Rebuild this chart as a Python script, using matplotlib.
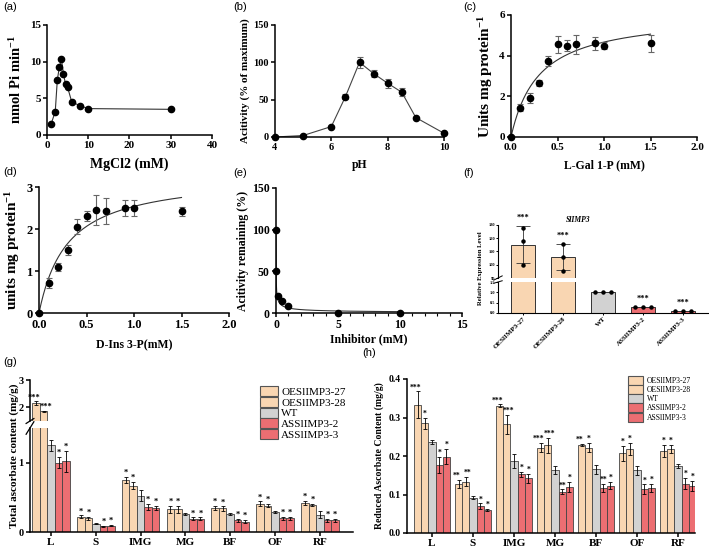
import numpy as np
import matplotlib
matplotlib.use("Agg")
import matplotlib.pyplot as plt
from matplotlib.patches import Patch
from matplotlib.ticker import MultipleLocator, FormatStrFormatter

plt.rcParams['font.family'] = 'Liberation Serif'
plt.rcParams['font.weight'] = 'bold'
plt.rcParams['axes.labelweight'] = 'bold'
plt.rcParams['mathtext.fontset'] = 'custom'
plt.rcParams['mathtext.rm'] = 'Liberation Serif:bold'
plt.rcParams['mathtext.bf'] = 'Liberation Serif:bold'
plt.rcParams['mathtext.default'] = 'rm'
plt.rcParams['axes.linewidth'] = 1.1
for a in ['xtick', 'ytick']:
    plt.rcParams[a + '.major.width'] = 1.1
    plt.rcParams[a + '.major.size'] = 3
    plt.rcParams[a + '.major.pad'] = 1.5

# (a) MgCl2 dependence
mg_conc = [1, 2, 2.5, 3, 3.5, 4, 4.5, 5, 6, 8, 10, 30]
mg_act = [1.5, 3.2, 7.5, 9.3, 10.3, 8.3, 6.9, 6.5, 4.5, 4.0, 3.6, 3.5]

# (b) pH profile
ph = [4, 5, 6, 6.5, 7, 7.5, 8, 8.5, 9, 10]
ph_act = [0, 2, 14, 54, 100, 85, 72, 60, 26, 5]
ph_err = [0, 0, 0, 3, 7, 5, 6, 5, 0, 0]

# (c) L-Gal 1-P kinetics
sub_conc = [0, 0.1, 0.2, 0.3, 0.4, 0.5, 0.6, 0.7, 0.9, 1.0, 1.5]
gal_act = [0, 1.45, 1.9, 2.65, 3.75, 4.55, 4.5, 4.55, 4.6, 4.5, 4.6]
gal_err = [0, 0.15, 0.25, 0.15, 0.25, 0.4, 0.25, 0.45, 0.3, 0.15, 0.4]
gal_vmax, gal_km = 6.07, 0.30

# (d) D-Ins 3-P kinetics
ins_act = [0, 0.72, 1.1, 1.5, 2.05, 2.3, 2.45, 2.43, 2.5, 2.5, 2.42]
ins_err = [0, 0.12, 0.1, 0.12, 0.18, 0.12, 0.35, 0.3, 0.2, 0.18, 0.1]
ins_vmax, ins_km = 3.3, 0.30

# (e) inhibition
inh_conc = [0, 0.01, 0.2, 0.5, 1, 5, 10]
inh_act = [100, 50, 20, 15, 8, 0, 0]
inh_ic50, inh_hill = 0.0095, 0.59

# (f) SlIMP3 expression
lines = ['OESlIMP3-27', 'OESlIMP3-28', 'WT', 'ASSlIMP3-2', 'ASSlIMP3-3']
line_colors = ['#F9D6B2', '#F9D6B2', '#D2D2D2', '#EC6E72', '#EC6E72']
expr_mean = [115, 106, 1.0, 0.27, 0.10]
expr_err = [14, 10, 0, 0, 0]
expr_reps = [[128, 118, 100], [116, 106, 95], [1.0, 1.0, 1.0], [0.27, 0.28, 0.27], [0.10, 0.12, 0.10]]
expr_sig = ['***', '***', '', '***', '***']

# (g) total ascorbate, (h) reduced ascorbate
tissues = ['L', 'S', 'IMG', 'MG', 'BF', 'OF', 'RF']
total_mean = {
    'OESlIMP3-27': [2.15, 0.22, 0.75, 0.33, 0.35, 0.41, 0.42],
    'OESlIMP3-28': [1.85, 0.20, 0.67, 0.33, 0.34, 0.38, 0.39],
    'WT':          [1.25, 0.12, 0.52, 0.26, 0.26, 0.29, 0.25],
    'ASSlIMP3-2':  [1.00, 0.08, 0.36, 0.19, 0.17, 0.20, 0.17],
    'ASSlIMP3-3':  [1.02, 0.09, 0.35, 0.19, 0.15, 0.20, 0.17],
}
total_err = {
    'OESlIMP3-27': [0.07, 0.02, 0.05, 0.05, 0.03, 0.03, 0.03],
    'OESlIMP3-28': [0.03, 0.02, 0.05, 0.05, 0.03, 0.02, 0.02],
    'WT':          [0.08, 0.01, 0.08, 0.02, 0.02, 0.02, 0.05],
    'ASSlIMP3-2':  [0.08, 0.01, 0.04, 0.02, 0.02, 0.02, 0.02],
    'ASSlIMP3-3':  [0.15, 0.01, 0.03, 0.02, 0.02, 0.02, 0.02],
}
total_sig = {
    'OESlIMP3-27': ['***', '*', '*', '*', '*', '*', '*'],
    'OESlIMP3-28': ['***', '*', '*', '*', '*', '*', '*'],
    'WT':          ['', '', '', '', '', '', ''],
    'ASSlIMP3-2':  ['*', '*', '*', '*', '*', '*', '*'],
    'ASSlIMP3-3':  ['*', '*', '*', '*', '*', '*', '*'],
}
red_mean = {
    'OESlIMP3-27': [0.333, 0.128, 0.330, 0.222, 0.228, 0.207, 0.213],
    'OESlIMP3-28': [0.285, 0.133, 0.282, 0.228, 0.222, 0.218, 0.218],
    'WT':          [0.237, 0.092, 0.188, 0.163, 0.165, 0.163, 0.174],
    'ASSlIMP3-2':  [0.177, 0.070, 0.152, 0.107, 0.117, 0.114, 0.128],
    'ASSlIMP3-3':  [0.198, 0.060, 0.142, 0.120, 0.123, 0.117, 0.122],
}
red_err = {
    'OESlIMP3-27': [0.035, 0.010, 0.004, 0.012, 0.003, 0.020, 0.015],
    'OESlIMP3-28': [0.015, 0.012, 0.025, 0.020, 0.012, 0.015, 0.010],
    'WT':          [0.005, 0.003, 0.018, 0.010, 0.012, 0.012, 0.005],
    'ASSlIMP3-2':  [0.020, 0.007, 0.006, 0.006, 0.010, 0.012, 0.015],
    'ASSlIMP3-3':  [0.020, 0.003, 0.012, 0.013, 0.010, 0.010, 0.013],
}
red_sig = {
    'OESlIMP3-27': ['***', '**', '***', '***', '**', '*', '*'],
    'OESlIMP3-28': ['*', '**', '***', '***', '*', '*', '*'],
    'WT':          ['', '', '', '', '', '', ''],
    'ASSlIMP3-2':  ['*', '*', '*', '**', '**', '*', '*'],
    'ASSlIMP3-3':  ['*', '*', '*', '*', '*', '*', '*'],
}

W, H = 709, 547
fig = plt.figure(figsize=(W / 100, H / 100), dpi=100)


def px_axes(x0, y0, x1, y1):
    return fig.add_axes([x0 / W, 1 - y1 / H, (x1 - x0) / W, (y1 - y0) / H])


def clean(ax, fs):
    ax.spines['top'].set_visible(False)
    ax.spines['right'].set_visible(False)
    ax.tick_params(labelsize=fs)


mm = lambda x, vmax, km: vmax * x / (km + x)
dot = dict(fmt='o', color='black', ms=4.5, ecolor='#666', elinewidth=0.8,
           capsize=2.5, capthick=0.8, clip_on=False, zorder=3)

# (a)
ax = px_axes(47, 25, 212, 135)
ax.plot(mg_conc, mg_act, '-o', color='#333', mfc='black', mec='black', ms=4.5, lw=0.8)
ax.set_xlim(0, 40)
ax.set_ylim(0, 15)
ax.xaxis.set_major_locator(MultipleLocator(10))
ax.yaxis.set_major_locator(MultipleLocator(5))
clean(ax, 8)
ax.set_xlabel('MgCl2 (mM)', fontsize=10, labelpad=5)
ax.set_ylabel('nmol Pi min$^{-1}$', fontsize=10.5, labelpad=4)

# (b)
ax = px_axes(275, 25, 444, 137)
ax.plot(ph, ph_act, '-', color='#444', lw=0.8)
ax.errorbar(ph, ph_act, yerr=ph_err, **dot)
ax.set_xlim(4, 10)
ax.set_ylim(0, 150)
ax.yaxis.set_major_locator(MultipleLocator(50))
clean(ax, 7.5)
ax.set_xlabel('pH', fontsize=8.5, labelpad=5)
ax.set_ylabel('Acitivity (% of maximum)', fontsize=8, labelpad=2)

# (c)
ax = px_axes(511, 15, 697, 137)
xs = np.linspace(0, 1.5, 200)
ax.plot(xs, mm(xs, gal_vmax, gal_km), color='#333', lw=0.8)
ax.errorbar(sub_conc, gal_act, yerr=gal_err, **dot)
ax.set_xlim(0, 2)
ax.set_ylim(0, 6)
ax.xaxis.set_major_locator(MultipleLocator(0.5))
ax.xaxis.set_major_formatter(FormatStrFormatter('%.1f'))
ax.yaxis.set_major_locator(MultipleLocator(2))
clean(ax, 8)
ax.set_xlabel('L-Gal 1-P (mM)', fontsize=8.5, labelpad=5)
ax.set_ylabel('Units mg protein$^{-1}$', fontsize=11, labelpad=3)

# (d)
ax = px_axes(39, 187, 229, 313)
ax.plot(xs, mm(xs, ins_vmax, ins_km), color='#333', lw=0.8)
ax.errorbar(sub_conc, ins_act, yerr=ins_err, **dot)
ax.set_xlim(0, 2)
ax.set_ylim(0, 3)
ax.xaxis.set_major_locator(MultipleLocator(0.5))
ax.xaxis.set_major_formatter(FormatStrFormatter('%.1f'))
ax.yaxis.set_major_locator(MultipleLocator(1))
clean(ax, 9)
ax.set_xlabel('D-Ins 3-P(mM)', fontsize=8.5, labelpad=6)
ax.set_ylabel('units mg protein$^{-1}$', fontsize=11, labelpad=3)

# (e)
ax = px_axes(276, 188, 462, 313)
xe = np.linspace(0, 10, 400)
ax.plot(xe, 100 / (1 + (xe / inh_ic50) ** inh_hill), color='#333', lw=0.8)
ax.errorbar(inh_conc, inh_act, **dot)
ax.set_xlim(0, 15)
ax.set_ylim(0, 150)
ax.xaxis.set_major_locator(MultipleLocator(5))
ax.xaxis.set_minor_locator(MultipleLocator(1))
ax.tick_params(axis='x', which='minor', length=1.8, width=0.8)
ax.yaxis.set_major_locator(MultipleLocator(50))
clean(ax, 8.5)
ax.set_xlabel('Inhibitor (mM)', fontsize=8.5, labelpad=1.5)
ax.set_ylabel('Acitivity remaining (%)', fontsize=8.5, labelpad=2)

# (f) broken-axis bar chart
ax_up = px_axes(498, 225, 708, 278)
ax_lo = px_axes(498, 282, 708, 313)
pos = np.arange(len(lines))
dot_dx = [[0, 0, 0], [0, 0, 0], [-0.2, 0, 0.2], [-0.2, 0, 0.2], [-0.2, 0, 0.2]]
for a in (ax_up, ax_lo):
    a.bar(pos, expr_mean, 0.62, color=line_colors, edgecolor='#333', lw=0.7)
    a.errorbar(pos, expr_mean, yerr=expr_err, fmt='none', ecolor='#333',
               elinewidth=0.6, capsize=5, capthick=0.6)
    for i in range(len(lines)):
        a.plot(pos[i] + np.array(dot_dx[i]), expr_reps[i], 'o', color='black', ms=2.2)
    a.set_xlim(-0.625, 4.625)
    a.spines['top'].set_visible(False)
    a.spines['right'].set_visible(False)
    a.tick_params(labelsize=3.2, length=1.5, width=0.7, pad=0.8)
    for s in a.spines.values():
        s.set_linewidth(0.8)
ax_up.set_ylim(90, 130)
ax_up.set_yticks([90, 100, 110, 120, 130])
ax_up.spines['bottom'].set_visible(False)
ax_up.set_xticks([])
ax_lo.set_ylim(0, 1.5)
ax_lo.set_yticks([0, 0.5, 1.0, 1.5])
ax_lo.yaxis.set_major_formatter(FormatStrFormatter('%.1f'))
ax_lo.set_xticks(pos)
ax_lo.set_xticklabels(lines, rotation=45, ha='right', rotation_mode='anchor', fontsize=5)
for i, s in enumerate(expr_sig):
    if not s:
        continue
    top = expr_mean[i] + expr_err[i]
    a = ax_up if expr_mean[i] > 1.5 else ax_lo
    a.annotate(s, (pos[i], top), xytext=(0, 3), textcoords='offset points',
               ha='center', va='bottom', fontsize=6, annotation_clip=False)
ax_up.text(1.375, 131, 'SlIMP3', style='italic', fontsize=5.5, ha='center', va='bottom')
for a, y in ((ax_up, 0), (ax_lo, 1)):
    a.plot([-0.02, 0.02], [y - 0.04, y + 0.04], transform=a.transAxes,
           color='black', lw=0.7, clip_on=False)
fig.text(481 / W, 1 - 268 / H, 'Relative Expression Level', rotation=90,
         ha='center', va='center', fontsize=4.8)


def grouped(ax_top, ax_bot, means, errs, sigs, width, split, fs):
    x = np.arange(len(tissues))
    for k, name in enumerate(lines):
        xb = x + (k - 2) * width
        for a in (ax_top, ax_bot):
            if a is None:
                continue
            a.bar(xb, means[name], width, color=line_colors[k], edgecolor='#444', lw=0.6)
            a.errorbar(xb, means[name], yerr=errs[name], fmt='none', ecolor='black',
                       elinewidth=0.6, capsize=1.5, capthick=0.6)
        # first column's stars lean left, second's lean right, as in the figure
        nudge = {0: -1.5, 1: 1.5}.get(k, 0)
        for j, s in enumerate(sigs[name]):
            if not s:
                continue
            top = means[name][j] + errs[name][j]
            a = ax_top if (ax_top is not None and top > split) else ax_bot
            a.annotate(s, (xb[j], top), xytext=(nudge if len(s) > 1 else 0, 0),
                       textcoords='offset points', ha='center', va='bottom',
                       fontsize=fs, annotation_clip=False)


# (g)
g_up = px_axes(30, 380, 353, 421)
g_lo = px_axes(30, 428, 353, 532)
gw = 7.5 / 44.8
grouped(g_up, g_lo, total_mean, total_err, total_sig, gw, 1.5, 6)
for a in (g_up, g_lo):
    a.set_xlim((30 - 51) / 44.8, (353 - 51) / 44.8)
    a.spines['top'].set_visible(False)
    a.spines['right'].set_visible(False)
    a.tick_params(labelsize=7.5)
g_up.set_ylim(1.5, 3.0)
g_up.set_yticks([2, 3])
g_up.spines['bottom'].set_visible(False)
g_up.set_xticks([])
g_lo.set_ylim(0, 1.5)
g_lo.set_yticks([0, 1])
g_lo.set_xticks(np.arange(len(tissues)))
g_lo.set_xticklabels(tissues, fontsize=8)
for a, y in ((g_up, 0), (g_lo, 1)):
    a.plot([-0.012, 0.012], [y - 0.06, y + 0.06], transform=a.transAxes,
           color='black', lw=0.9, clip_on=False)
fig.text(14 / W, 1 - 456 / H, 'Total ascorbate content (mg/g)', rotation=90,
         ha='center', va='center', fontsize=8)
handles = [Patch(facecolor=c, edgecolor='#555', lw=0.8) for c in line_colors]
fig.legend(handles, lines, loc='upper left', bbox_to_anchor=(260 / W, 1 - 386 / H),
           frameon=False, borderpad=0, borderaxespad=0,
           handlelength=1.6, handleheight=1.0, labelspacing=0.0, handletextpad=0.3,
           prop={'family': 'Liberation Serif', 'weight': 'normal', 'size': 8})

# (h)
h_ax = px_axes(407, 379, 695, 533)
hw = 7.2 / 41
grouped(None, h_ax, red_mean, red_err, red_sig, hw, 1.0, 5.5)
h_ax.set_xlim((407 - 432) / 41, (695 - 432) / 41)
h_ax.set_ylim(0, 0.4)
h_ax.yaxis.set_major_locator(MultipleLocator(0.1))
h_ax.yaxis.set_major_formatter(FormatStrFormatter('%.1f'))
h_ax.spines['top'].set_visible(False)
h_ax.spines['right'].set_visible(False)
h_ax.tick_params(labelsize=7)
h_ax.set_xticks(np.arange(len(tissues)))
h_ax.set_xticklabels(tissues, fontsize=8)
h_ax.set_ylabel('Reduced Ascorbate Content (mg/g)', fontsize=7, labelpad=3)
fig.legend(handles, lines, loc='upper left', bbox_to_anchor=(628 / W, 1 - 375.5 / H),
           frameon=False, borderpad=0, borderaxespad=0,
           handlelength=2.0, handleheight=1.45, labelspacing=0.03, handletextpad=0.5,
           prop={'family': 'Liberation Serif', 'weight': 'normal', 'size': 5.5})

# panel letters
for lab, x, y in [('(a)', 3, 7), ('(b)', 233, 7), ('(c)', 463, 7), ('(d)', 3, 172),
                  ('(e)', 233, 173), ('(f)', 463, 173), ('(g)', 3, 362), ('(h)', 362, 353)]:
    fig.text(x / W, 1 - y / H, lab, family='Liberation Sans', weight='normal',
             fontsize=8, ha='left', va='center')

fig.savefig('out.png', dpi=100)
